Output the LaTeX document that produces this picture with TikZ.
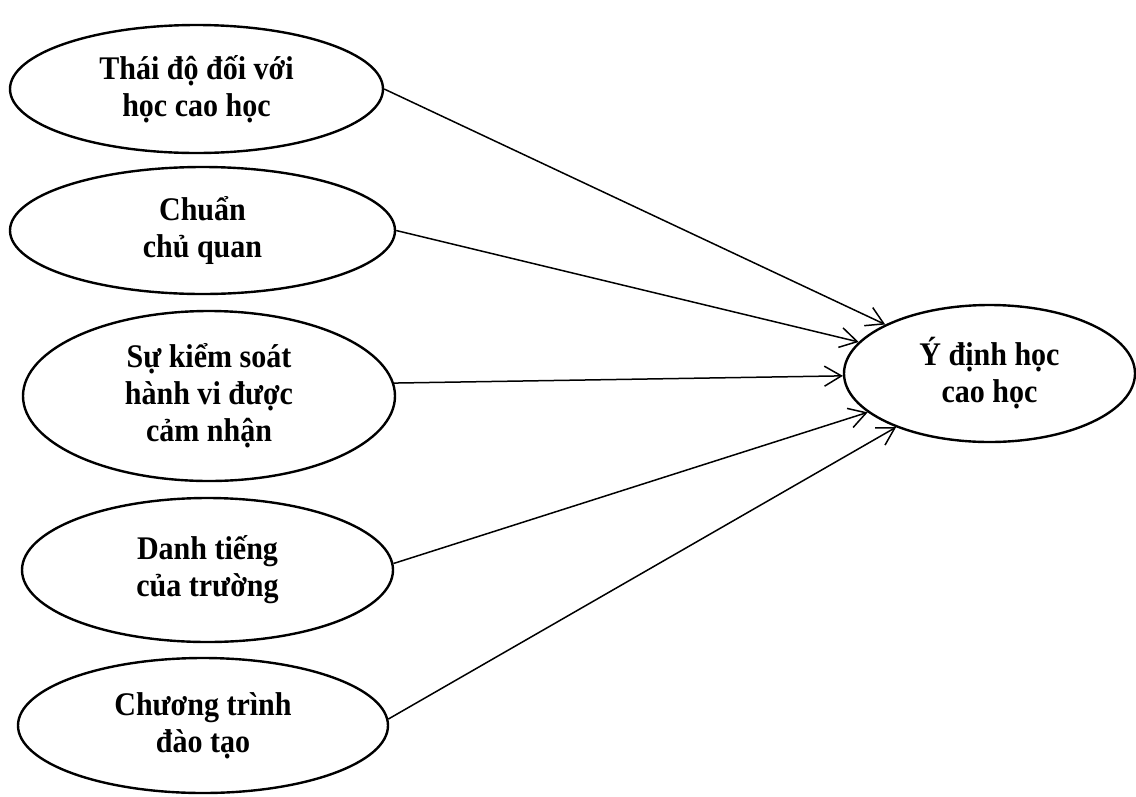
\documentclass[tikz,border=0pt]{standalone}
\usepackage{fontspec}
\setmainfont{Liberation Serif}[FakeStretch=0.91]
\usetikzlibrary{shapes.geometric,arrows.meta}
\tikzset{
  oval/.style={ellipse, draw, line width=2.4pt, inner sep=0pt, align=center,
    font=\fontsize{33}{37}\selectfont\bfseries},
  link/.style={line width=1.5pt, -{Straight Barb[length=17pt,width=20pt,line width=1.5pt]}}
}
\begin{document}
\begin{tikzpicture}[x=1pt,y=-1pt]
\useasboundingbox (0,0) rectangle (1136,796);
\node[oval, minimum width=373pt, minimum height=128pt] (e1) at (196.5,89) {Thái độ đối với\\học cao học};
\node[oval, minimum width=385pt, minimum height=127pt] (e2) at (202.5,230.5) {Chuẩn\\chủ quan};
\node[oval, minimum width=372pt, minimum height=170pt] (e3) at (209,396) {Sự kiểm soát\\hành vi được\\cảm nhận};
\node[oval, minimum width=371pt, minimum height=144pt] (e4) at (207.5,570) {Danh tiếng\\của trường};
\node[oval, minimum width=370pt, minimum height=135pt] (e5) at (203,725.5) {Chương trình\\đào tạo};
\node[oval, minimum width=291pt, minimum height=137pt] (t) at (989.5,373.5) {Ý định học\\cao học};
\draw[link] (e1.east) -- (t);
\draw[link] (e2.east) -- (t);
\draw[link] (e3.4) -- (t);
\draw[link] (e4.2.5) -- (t);
\draw[link] (e5.2.6) -- (t);
\end{tikzpicture}
\end{document}
